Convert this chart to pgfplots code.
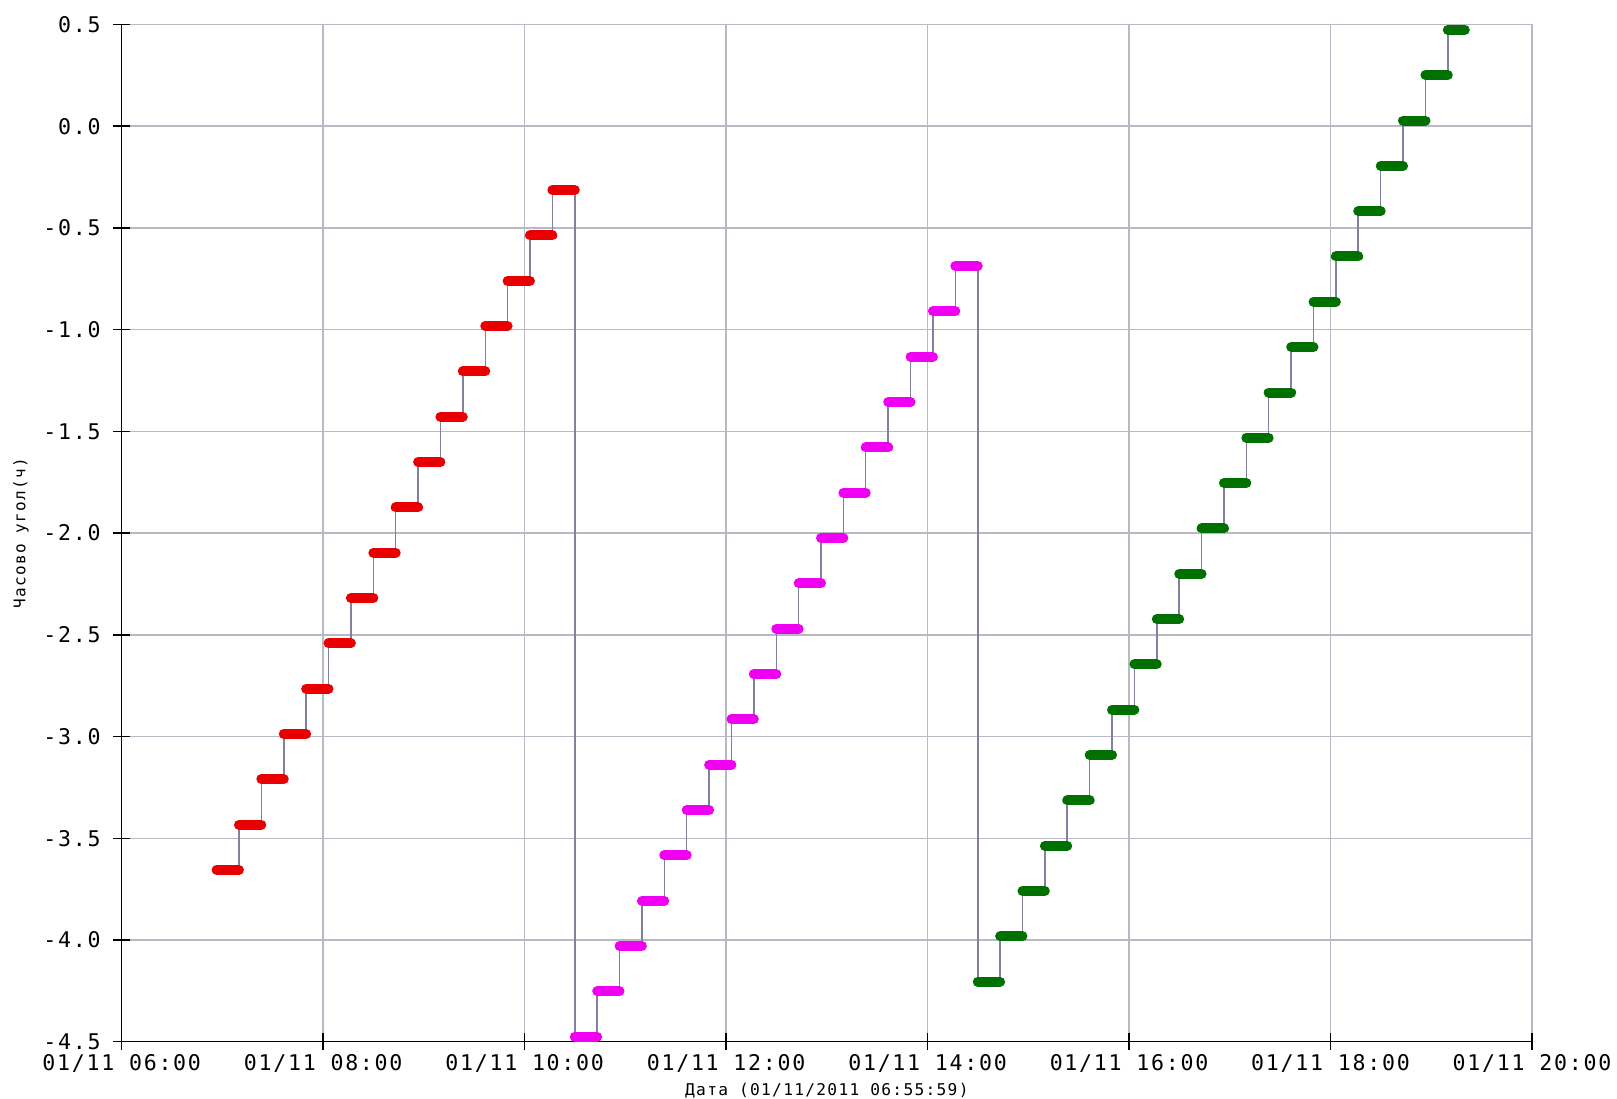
\documentclass[border=0pt]{standalone}
\usepackage{fontspec}
\setmainfont{DejaVu Sans Mono}[LetterSpace=8]
\usepackage{pgfplots}
\pgfplotsset{compat=1.18}
\definecolor{gridc}{RGB}{185,185,198}
\definecolor{connc}{RGB}{130,130,160}
\definecolor{cred}{RGB}{232,0,0}
\definecolor{cmag}{RGB}{240,0,240}
\definecolor{cgreen}{RGB}{0,112,0}
\begin{document}
\begin{tikzpicture}
\path[use as bounding box] (-60.85pt,-28.15pt) rectangle (747.65pt,520.85pt);
\begin{axis}[
  at={(0,0)}, anchor=south west,
  scale only axis, width=705.15pt, height=508.6pt,
  xmin=6, xmax=20, ymin=-4.5, ymax=0.5,
  axis x line*=bottom, axis y line*=left,
  axis line style={black, line width=0.75pt, -},
  every outer x axis line/.append style={-},
  every outer y axis line/.append style={-},
  xtick={6,8,10,12,14,16,18,20},
  xticklabels={01/11 06:00,01/11 08:00,01/11 10:00,01/11 12:00,01/11 14:00,01/11 16:00,01/11 18:00,01/11 20:00},
  ytick={-4.5,-4,-3.5,-3,-2.5,-2,-1.5,-1,-0.5,0,0.5},
  yticklabels={-4.5,-4.0,-3.5,-3.0,-2.5,-2.0,-1.5,-1.0,-0.5,0.0,0.5},
  tick align=center, major tick length=8.3pt,
  tick style={black, line width=0.75pt},
  grid=major, major grid style={gridc, line width=0.75pt},
  xticklabel style={font=\fontsize{10.8}{12}\selectfont, anchor=center, yshift=-6.5pt},
  yticklabel style={font=\fontsize{10.8}{12}\selectfont, anchor=east, inner sep=0pt, xshift=-6.2pt},
  xlabel={Дата (01/11/2011 06:55:59)},
  ylabel={Часово угол(ч)},
  xlabel style={font=\fontsize{8.1}{9}\selectfont, at={(axis description cs:0.5,-0.0476)}, anchor=center},
  ylabel style={font=\fontsize{8}{9}\selectfont, at={(axis description cs:-0.0714,0.5)}, anchor=center},
]
% thin connecting step line
\addplot[const plot, connc, line width=0.75pt] coordinates {
(6.942,-3.656) (7.164,-3.433) (7.386,-3.210) (7.609,-2.988) (7.831,-2.765) (8.053,-2.542) (8.275,-2.319) (8.498,-2.096) (8.720,-1.874) (8.942,-1.651) (9.164,-1.428) (9.386,-1.205) (9.609,-0.982) (9.831,-0.760) (10.053,-0.537) (10.275,-0.314)
(10.498,-4.475) (10.720,-4.252) (10.942,-4.029) (11.164,-3.807) (11.386,-3.584) (11.609,-3.361) (11.831,-3.138) (12.053,-2.915) (12.275,-2.693) (12.498,-2.470) (12.720,-2.247) (12.942,-2.024) (13.164,-1.801) (13.386,-1.579) (13.609,-1.356) (13.831,-1.133) (14.053,-0.910) (14.275,-0.687)
(14.498,-4.205) (14.720,-3.982) (14.942,-3.759) (15.164,-3.537) (15.386,-3.314) (15.609,-3.091) (15.831,-2.868) (16.053,-2.645) (16.275,-2.423) (16.498,-2.200) (16.720,-1.977) (16.942,-1.754) (17.164,-1.531) (17.386,-1.309) (17.609,-1.086) (17.831,-0.863) (18.053,-0.640) (18.275,-0.417) (18.498,-0.195) (18.720,0.028) (18.942,0.251) (19.164,0.474) (19.333,0.474)
};
% thick steps
\addplot[jump mark left, cred, line width=5pt, line cap=round] coordinates {
(6.942,-3.656) (7.164,-3.433) (7.386,-3.210) (7.609,-2.988) (7.831,-2.765) (8.053,-2.542) (8.275,-2.319) (8.498,-2.096) (8.720,-1.874) (8.942,-1.651) (9.164,-1.428) (9.386,-1.205) (9.609,-0.982) (9.831,-0.760) (10.053,-0.537) (10.275,-0.314) (10.498,-0.314)
};
\addplot[jump mark left, cmag, line width=5pt, line cap=round] coordinates {
(10.498,-4.475) (10.720,-4.252) (10.942,-4.029) (11.164,-3.807) (11.386,-3.584) (11.609,-3.361) (11.831,-3.138) (12.053,-2.915) (12.275,-2.693) (12.498,-2.470) (12.720,-2.247) (12.942,-2.024) (13.164,-1.801) (13.386,-1.579) (13.609,-1.356) (13.831,-1.133) (14.053,-0.910) (14.275,-0.687) (14.498,-0.687)
};
\addplot[jump mark left, cgreen, line width=5pt, line cap=round] coordinates {
(14.498,-4.205) (14.720,-3.982) (14.942,-3.759) (15.164,-3.537) (15.386,-3.314) (15.609,-3.091) (15.831,-2.868) (16.053,-2.645) (16.275,-2.423) (16.498,-2.200) (16.720,-1.977) (16.942,-1.754) (17.164,-1.531) (17.386,-1.309) (17.609,-1.086) (17.831,-0.863) (18.053,-0.640) (18.275,-0.417) (18.498,-0.195) (18.720,0.028) (18.942,0.251) (19.164,0.474) (19.333,0.474)
};
\end{axis}
\end{tikzpicture}
\end{document}
